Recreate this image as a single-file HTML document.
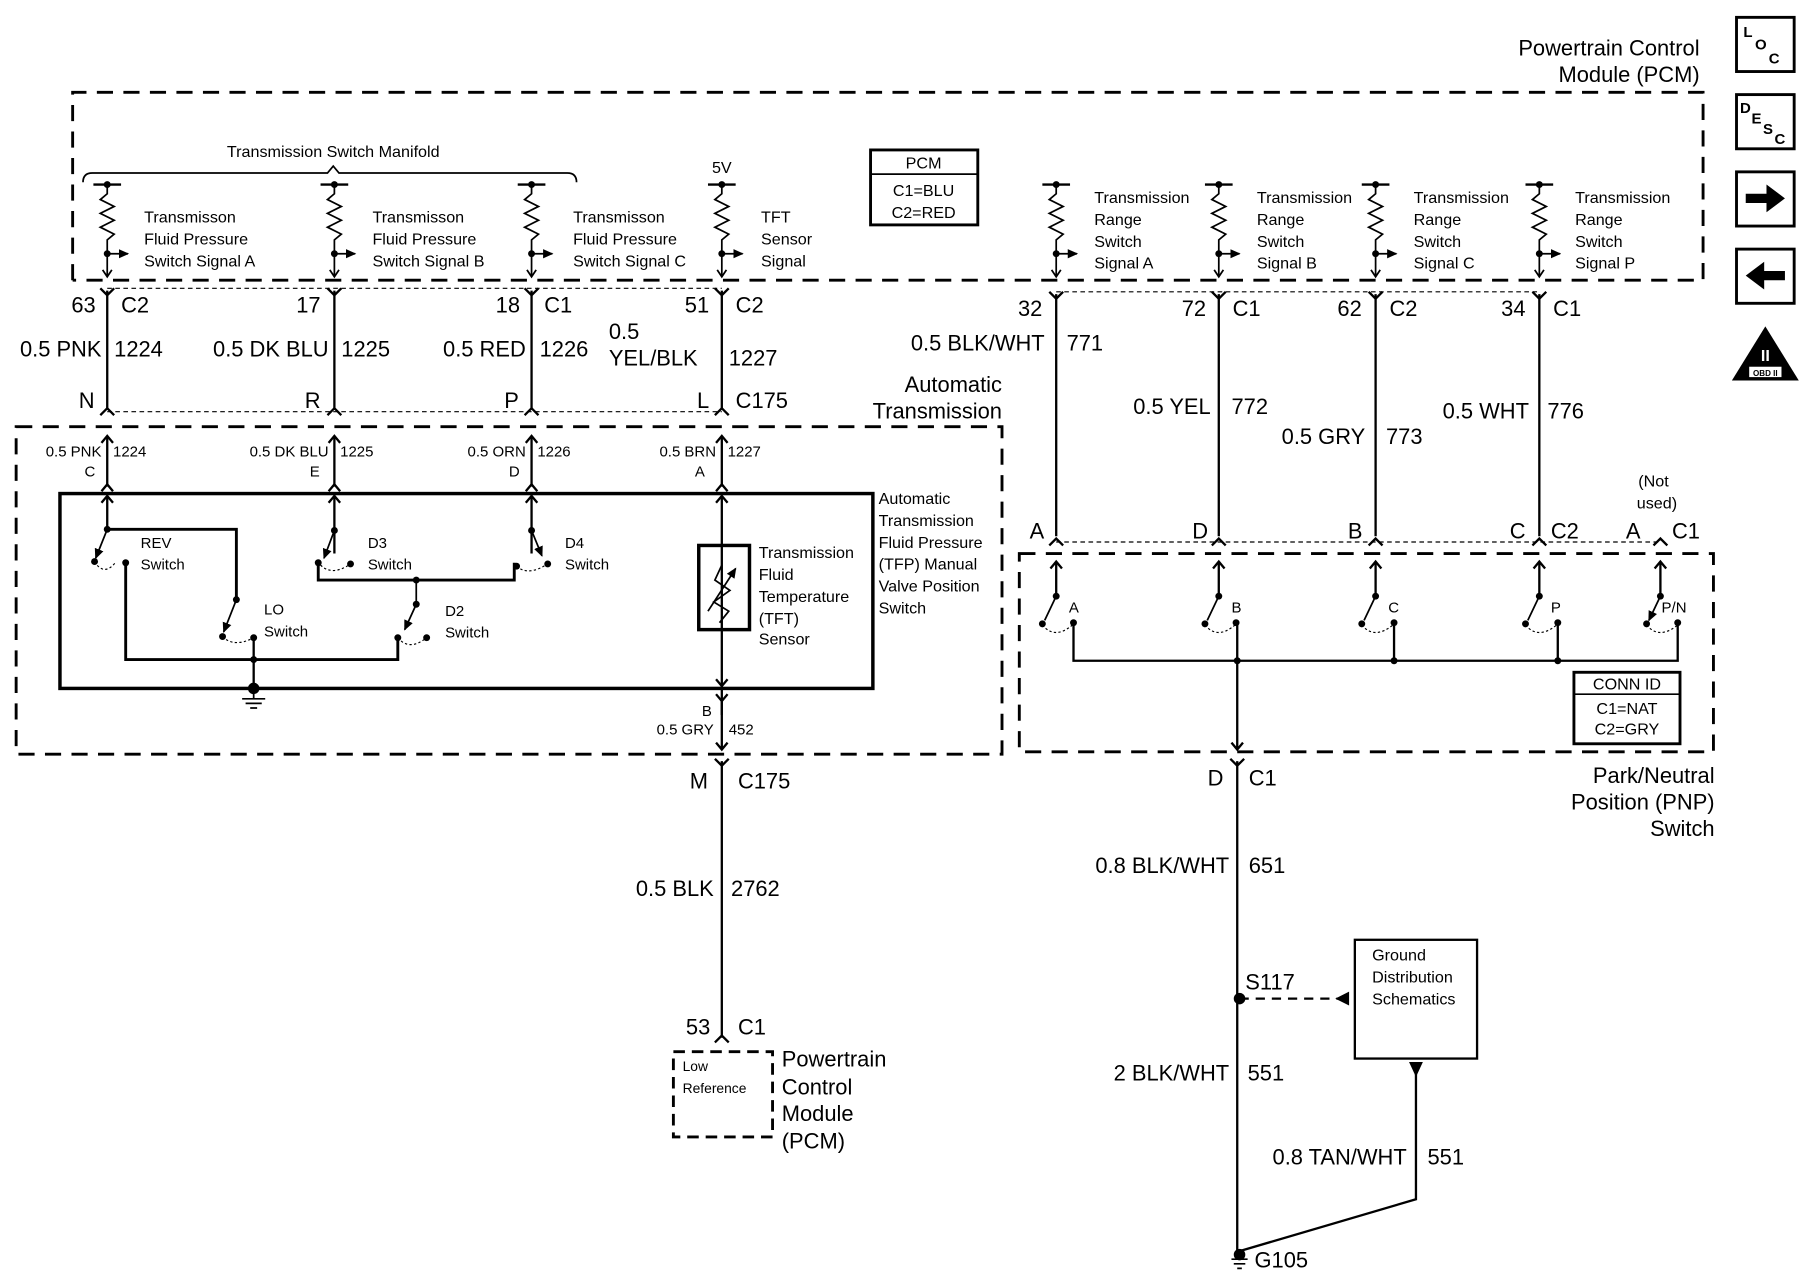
<!DOCTYPE html>
<html><head><meta charset="utf-8"><style>
html,body{margin:0;padding:0;background:#fff;}
svg{display:block;}
text{font-family:"Liberation Sans",Arial,sans-serif;fill:#000;}
</style></head><body>
<svg width="1808" height="1280" viewBox="0 0 1568 1110" xmlns="http://www.w3.org/2000/svg">
<defs>
<marker id="ar" markerUnits="userSpaceOnUse" markerWidth="9" markerHeight="8" refX="8" refY="4" orient="auto"><path d="M0,0 L9,4 L0,8 z" fill="#000"/></marker>
<g id="r"><path d="M0,160 V168 L-6,173 L6,179 L-6,185 L6,191 L-6,197 L6,203 L0,208 V240" /><path d="M-12,160 H12" stroke-width="2"/><path d="M0,220 H18" marker-end="url(#ar)"/></g>
</defs>
<g fill="none" stroke="#000">
<path d="M63,243 V80 H1477 V243 H63" stroke-width="2.5" stroke-dasharray="14,9"/>
<rect x="14" y="370" width="855" height="284" stroke-width="2.5" stroke-dasharray="14,9"/>
<rect x="884" y="480" width="602" height="172" stroke-width="2.5" stroke-dasharray="14,9"/>
<path d="M93,250 H626 M93,357 H626 M916,253 H1335 M916,470 H1440" stroke-width="1" stroke-dasharray="4,3"/>
<path d="M72,158 Q72,150 80,150 H284 L289,144 L294,150 H492 Q500,150 500,158" stroke-width="1.5"/>
<rect x="755" y="130" width="93" height="65" stroke-width="2.5"/>
<line x1="755" y1="151" x2="848" y2="151" stroke-width="1.5"/>
<rect x="1506" y="15" width="50" height="47" stroke-width="2.5"/>
<rect x="1506" y="82" width="50" height="47" stroke-width="2.5"/>
<rect x="1506" y="149" width="50" height="47" stroke-width="2.5"/>
<rect x="1506" y="216" width="50" height="47" stroke-width="2.5"/>
<rect x="52" y="428" width="705" height="169" stroke-width="3"/>
<rect x="606" y="473" width="44" height="73" stroke-width="3"/>
<rect x="1365" y="583" width="92" height="62" stroke-width="2.5"/>
<line x1="1365" y1="602" x2="1457" y2="602" stroke-width="1.5"/>
<rect x="584" y="912" width="86" height="74" stroke-width="2.5" stroke-dasharray="10,6"/>
<rect x="1175" y="815" width="106" height="103" stroke-width="2"/>
</g>
<path d="M1514,168 H1532 V160 L1548,172 L1532,184 V176 H1514 z"/>
<path d="M1548,235 H1530 V227 L1514,239 L1530,251 V243 H1548 z"/>
<path d="M1531,283 L1560,330 H1502 z"/>
<rect x="1517" y="318" width="28" height="9" fill="#fff"/>
<text x="1531" y="326" font-size="7" text-anchor="middle" font-weight="bold">OBD II</text>
<text x="1531" y="313" font-size="14" text-anchor="middle" style="fill:#fff" font-weight="bold">II</text>
<text x="1512" y="32" font-size="13" font-weight="bold">L</text><text x="1522" y="43" font-size="13" font-weight="bold">O</text><text x="1534" y="55" font-size="13" font-weight="bold">C</text>
<text x="1509" y="98" font-size="13" font-weight="bold">D</text><text x="1519" y="107" font-size="13" font-weight="bold">E</text><text x="1529" y="116" font-size="13" font-weight="bold">S</text><text x="1539" y="125" font-size="13" font-weight="bold">C</text>

<g stroke="#000" fill="none" stroke-width="1.5">
<use href="#r" x="93"/><use href="#r" x="290"/><use href="#r" x="461"/><use href="#r" x="626"/>
<use href="#r" x="916"/><use href="#r" x="1057"/><use href="#r" x="1193"/><use href="#r" x="1335"/>
</g>
<g fill="#000">
<circle cx="93" cy="160" r="3"/><circle cx="290" cy="160" r="3"/><circle cx="461" cy="160" r="3"/><circle cx="626" cy="160" r="3"/>
<circle cx="916" cy="160" r="3"/><circle cx="1057" cy="160" r="3"/><circle cx="1193" cy="160" r="3"/><circle cx="1335" cy="160" r="3"/>
<circle cx="93" cy="220" r="3"/><circle cx="290" cy="220" r="3"/><circle cx="461" cy="220" r="3"/><circle cx="626" cy="220" r="3"/>
<circle cx="916" cy="220" r="3"/><circle cx="1057" cy="220" r="3"/><circle cx="1193" cy="220" r="3"/><circle cx="1335" cy="220" r="3"/>
</g>
<g stroke="#000" fill="none" stroke-width="1.5">
<path d="M89,234 L93,240 L97,234 M286,234 L290,240 L294,234 M457,234 L461,240 L465,234 M622,234 L626,240 L630,234 M912,234 L916,240 L920,234 M1053,234 L1057,240 L1061,234 M1189,234 L1193,240 L1197,234 M1331,234 L1335,240 L1339,234"/>
</g>

<g stroke="#000" fill="none" stroke-width="2">
<path d="M93,252 V355 M290,252 V355 M461,252 V355 M626,252 V355"/>
<path d="M87,250 L93,256 L99,250 M284,250 L290,256 L296,250 M455,250 L461,256 L467,250 M620,250 L626,256 L632,250"/>
<path d="M87,360 L93,354 L99,360 M284,360 L290,354 L296,360 M455,360 L461,354 L467,360 M620,360 L626,354 L632,360"/>
<path d="M916,255 V465 M1057,255 V465 M1193,255 V465 M1335,255 V465"/>
<path d="M910,253 L916,259 L922,253 M1051,253 L1057,259 L1063,253 M1187,253 L1193,259 L1199,253 M1329,253 L1335,259 L1341,253"/>
<path d="M910,473 L916,467 L922,473 M1051,473 L1057,467 L1063,473 M1187,473 L1193,467 L1199,473 M1329,473 L1335,467 L1341,473 M1434,473 L1440,467 L1446,473"/>
<path d="M93,378 V422 M290,378 V422 M461,378 V422 M626,378 V422"/>
<path d="M88,384 L93,378 L98,384 M285,384 L290,378 L295,384 M456,384 L461,378 L466,384 M621,384 L626,378 L631,384"/>
<path d="M88,426 L93,420 L98,426 M285,426 L290,420 L295,426 M456,426 L461,420 L466,426 M621,426 L626,420 L631,426"/>
<path d="M93,430 V459 M290,430 V480 M461,430 V480 M626,430 V620"/>
<path d="M88,436 L93,430 L98,436 M285,436 L290,430 L295,436 M456,436 L461,430 L466,436 M621,436 L626,430 L631,436"/>
<path d="M621,589 L626,595 L631,589 M621,602 L626,608 L631,602"/>
<path d="M626,608 V650 M621,644 L626,650 L631,644"/>
<path d="M93,459 H205 V520" stroke-width="2.5"/>
<path d="M93,459 L83,484" marker-end="url(#ar)" stroke-width="1.5"/>
<path d="M82,487 Q90,500 100,488" stroke-dasharray="2,2" stroke-width="1"/>
<path d="M109,488 V572 H345 V553" stroke-width="2.5"/>
<path d="M205,520 L194,548" marker-end="url(#ar)" stroke-width="1.5"/>
<path d="M193,552 Q203,562 220,553" stroke-dasharray="2,2" stroke-width="1"/>
<path d="M220,553 V597"/>
<path d="M290,452 V460 L281,484" marker-end="url(#ar)" stroke-width="1.5"/>
<path d="M276,488 V503 H446 V488" stroke-width="2.5"/>
<path d="M278,490 Q288,500 304,489" stroke-dasharray="2,2" stroke-width="1"/>
<path d="M461,460 L470,482" marker-end="url(#ar)" stroke-width="1.5"/>
<path d="M448,491 Q458,500 475,489" stroke-dasharray="2,2" stroke-width="1"/>
<path d="M361,503 V524 L351,546" marker-end="url(#ar)" stroke-width="1.5"/>
<path d="M345,553 Q355,565 370,553" stroke-dasharray="2,2" stroke-width="1"/>
<path d="M626,490 L620,503 L633,512 L619,522 L632,530 L624,540" stroke-width="1.5"/>
<path d="M614,530 L638,493" marker-end="url(#ar)" stroke-width="1.5"/>
<path d="M220,597 V606 M210,606 H230 M213,610 H227 M217,614 H223" stroke-width="1.5"/>
<path d="M626,660 V900 M620,658 L626,664 L632,658 M620,904 L626,898 L632,904"/>
<path d="M916,487 V517 M1057,487 V517 M1193,487 V517 M1335,487 V517 M1440,487 V517"/>
<path d="M911,493 L916,487 L921,493 M1052,493 L1057,487 L1062,493 M1188,493 L1193,487 L1198,493 M1330,493 L1335,487 L1340,493 M1435,493 L1440,487 L1445,493"/>
<g stroke-width="1.5">
<path d="M916,517 L906,538 M1057,517 L1047,538 M1193,517 L1183,538 M1335,517 L1325,538 M1440,517 L1430,538" marker-end="url(#ar)"/>
</g>
<path d="M904,542 Q915,555 930,542 M1045,542 Q1056,555 1071,542 M1181,542 Q1192,555 1208,542 M1323,542 Q1334,555 1350,542 M1428,542 Q1439,555 1455,542" stroke-dasharray="2,2" stroke-width="1"/>
<path d="M931,540 V573 H1455 V540 M1073,540 V573 M1209,540 V573 M1351,540 V573" stroke-width="2"/>
<path d="M1073,573 V650 M1068,644 L1073,650 L1078,644"/>
<path d="M1073,660 V1085 M1067,658 L1073,664 L1079,658"/>
<path d="M1075,866 H1160" stroke-dasharray="8,6"/>
<path d="M1228,930 V1040 L1075,1085"/>
<path d="M1068,1092 H1082 M1070,1096 H1080 M1073,1100 H1077" stroke-width="1.5"/>
</g>
<g fill="#000">
<path d="M1170,860 L1158,866 L1170,872 z"/>
<path d="M1222,921 L1228,934 L1234,921 z"/>
<circle cx="1075" cy="866" r="5"/><circle cx="1075" cy="1088" r="5"/>
<circle cx="220" cy="597" r="5"/>
<circle cx="93" cy="459" r="3"/><circle cx="82" cy="487" r="3"/><circle cx="109" cy="488" r="3"/>
<circle cx="205" cy="520" r="3"/><circle cx="193" cy="552" r="3"/><circle cx="220" cy="553" r="3"/><circle cx="220" cy="572" r="3"/>
<circle cx="290" cy="460" r="3"/><circle cx="276" cy="488" r="3"/><circle cx="304" cy="489" r="3"/>
<circle cx="461" cy="460" r="3"/><circle cx="448" cy="491" r="3"/><circle cx="475" cy="489" r="3"/>
<circle cx="361" cy="524" r="3"/><circle cx="361" cy="503" r="3"/><circle cx="345" cy="553" r="3"/><circle cx="370" cy="553" r="3"/>
<circle cx="916" cy="517" r="3"/><circle cx="1057" cy="517" r="3"/><circle cx="1193" cy="517" r="3"/><circle cx="1335" cy="517" r="3"/><circle cx="1440" cy="517" r="3"/>
<circle cx="904" cy="541" r="3"/><circle cx="931" cy="540" r="3"/><circle cx="1045" cy="541" r="3"/><circle cx="1072" cy="540" r="3"/>
<circle cx="1181" cy="541" r="3"/><circle cx="1209" cy="540" r="3"/><circle cx="1323" cy="541" r="3"/><circle cx="1351" cy="540" r="3"/>
<circle cx="1428" cy="541" r="3"/><circle cx="1455" cy="540" r="3"/>
<circle cx="1073" cy="573" r="3"/><circle cx="1209" cy="573" r="3"/><circle cx="1351" cy="573" r="3"/>
</g>

<g font-size="19">
<text x="1474" y="48" text-anchor="end">Powertrain Control</text>
<text x="1474" y="71" text-anchor="end">Module (PCM)</text>
<text x="83" y="271" text-anchor="end">63</text><text x="105" y="271">C2</text>
<text x="278" y="271" text-anchor="end">17</text>
<text x="451" y="271" text-anchor="end">18</text><text x="472" y="271">C1</text>
<text x="615" y="271" text-anchor="end">51</text><text x="638" y="271">C2</text>
<text x="88" y="309" text-anchor="end">0.5 PNK</text><text x="99" y="309">1224</text>
<text x="285" y="309" text-anchor="end">0.5 DK BLU</text><text x="296" y="309">1225</text>
<text x="456" y="309" text-anchor="end">0.5 RED</text><text x="468" y="309">1226</text>
<text x="528" y="294">0.5</text><text x="528" y="317">YEL/BLK</text><text x="632" y="317">1227</text>
<text x="82" y="354" text-anchor="end">N</text><text x="278" y="354" text-anchor="end">R</text>
<text x="450" y="354" text-anchor="end">P</text><text x="615" y="354" text-anchor="end">L</text><text x="638" y="354">C175</text>
<text x="869" y="340" text-anchor="end">Automatic</text><text x="869" y="363" text-anchor="end">Transmission</text>
<text x="904" y="274" text-anchor="end">32</text>
<text x="1046" y="274" text-anchor="end">72</text><text x="1069" y="274">C1</text>
<text x="1181" y="274" text-anchor="end">62</text><text x="1205" y="274">C2</text>
<text x="1323" y="274" text-anchor="end">34</text><text x="1347" y="274">C1</text>
<text x="906" y="304" text-anchor="end">0.5 BLK/WHT</text><text x="925" y="304">771</text>
<text x="1050" y="359" text-anchor="end">0.5 YEL</text><text x="1068" y="359">772</text>
<text x="1184" y="385" text-anchor="end">0.5 GRY</text><text x="1202" y="385">773</text>
<text x="1326" y="363" text-anchor="end">0.5 WHT</text><text x="1342" y="363">776</text>
<text x="893" y="467">A</text><text x="1034" y="467">D</text><text x="1169" y="467">B</text>
<text x="1323" y="467" text-anchor="end">C</text><text x="1345" y="467">C2</text>
<text x="1410" y="467">A</text><text x="1450" y="467">C1</text>
<text x="1487" y="679" text-anchor="end">Park/Neutral</text>
<text x="1487" y="702" text-anchor="end">Position (PNP)</text>
<text x="1487" y="725" text-anchor="end">Switch</text>
<text x="1061" y="681" text-anchor="end">D</text><text x="1083" y="681">C1</text>
<text x="1066" y="757" text-anchor="end">0.8 BLK/WHT</text><text x="1083" y="757">651</text>
<text x="1080" y="858">S117</text>
<text x="1066" y="937" text-anchor="end">2 BLK/WHT</text><text x="1082" y="937">551</text>
<text x="1220" y="1010" text-anchor="end">0.8 TAN/WHT</text><text x="1238" y="1010">551</text>
<text x="1088" y="1099">G105</text>
<text x="614" y="684" text-anchor="end">M</text><text x="640" y="684">C175</text>
<text x="619" y="777" text-anchor="end">0.5 BLK</text><text x="634" y="777">2762</text>
<text x="616" y="897" text-anchor="end">53</text><text x="640" y="897">C1</text>
<text x="678" y="925">Powertrain</text><text x="678" y="949">Control</text><text x="678" y="972">Module</text><text x="678" y="996">(PCM)</text>
</g>
<g font-size="14">
<text x="289" y="136" text-anchor="middle">Transmission Switch Manifold</text>
<text x="626" y="150" text-anchor="middle">5V</text>
<text x="125" y="193">Transmisson</text><text x="125" y="212">Fluid Pressure</text><text x="125" y="231">Switch Signal A</text>
<text x="323" y="193">Transmisson</text><text x="323" y="212">Fluid Pressure</text><text x="323" y="231">Switch Signal B</text>
<text x="497" y="193">Transmisson</text><text x="497" y="212">Fluid Pressure</text><text x="497" y="231">Switch Signal C</text>
<text x="660" y="193">TFT</text><text x="660" y="212">Sensor</text><text x="660" y="231">Signal</text>
<text x="801" y="146" text-anchor="middle">PCM</text>
<text x="801" y="170" text-anchor="middle">C1=BLU</text><text x="801" y="189" text-anchor="middle">C2=RED</text>
<text x="949" y="176">Transmission</text><text x="949" y="195">Range</text><text x="949" y="214">Switch</text><text x="949" y="233">Signal A</text>
<text x="1090" y="176">Transmission</text><text x="1090" y="195">Range</text><text x="1090" y="214">Switch</text><text x="1090" y="233">Signal B</text>
<text x="1226" y="176">Transmission</text><text x="1226" y="195">Range</text><text x="1226" y="214">Switch</text><text x="1226" y="233">Signal C</text>
<text x="1366" y="176">Transmission</text><text x="1366" y="195">Range</text><text x="1366" y="214">Switch</text><text x="1366" y="233">Signal P</text>
<text x="1434" y="422" text-anchor="middle">(Not</text><text x="1437" y="441" text-anchor="middle">used)</text>
<text x="762" y="437">Automatic</text><text x="762" y="456">Transmission</text><text x="762" y="475">Fluid Pressure</text>
<text x="762" y="494">(TFP) Manual</text><text x="762" y="513">Valve Position</text><text x="762" y="532">Switch</text>
<text x="658" y="484">Transmission</text><text x="658" y="503">Fluid</text><text x="658" y="522">Temperature</text>
<text x="658" y="541">(TFT)</text><text x="658" y="559">Sensor</text>
<text x="1411" y="598" text-anchor="middle">CONN ID</text>
<text x="1411" y="619" text-anchor="middle">C1=NAT</text><text x="1411" y="637" text-anchor="middle">C2=GRY</text>
<text x="1190" y="833">Ground</text><text x="1190" y="852">Distribution</text><text x="1190" y="871">Schematics</text>
</g>
<g font-size="13">
<text x="88" y="396" text-anchor="end">0.5 PNK</text><text x="98" y="396">1224</text><text x="78" y="413" text-anchor="middle">C</text>
<text x="285" y="396" text-anchor="end">0.5 DK BLU</text><text x="295" y="396">1225</text><text x="273" y="413" text-anchor="middle">E</text>
<text x="456" y="396" text-anchor="end">0.5 ORN</text><text x="466" y="396">1226</text><text x="446" y="413" text-anchor="middle">D</text>
<text x="621" y="396" text-anchor="end">0.5 BRN</text><text x="631" y="396">1227</text><text x="607" y="413" text-anchor="middle">A</text>
<text x="122" y="475">REV</text><text x="122" y="494">Switch</text>
<text x="319" y="475">D3</text><text x="319" y="494">Switch</text>
<text x="490" y="475">D4</text><text x="490" y="494">Switch</text>
<text x="229" y="533">LO</text><text x="229" y="552">Switch</text>
<text x="386" y="534">D2</text><text x="386" y="553">Switch</text>
<text x="613" y="621" text-anchor="middle">B</text>
<text x="619" y="637" text-anchor="end">0.5 GRY</text><text x="632" y="637">452</text>
<text x="927" y="531">A</text><text x="1068" y="531">B</text><text x="1204" y="531">C</text><text x="1345" y="531">P</text><text x="1441" y="531">P/N</text>
<text x="592" y="929" font-size="12">Low</text><text x="592" y="948" font-size="12">Reference</text>
</g>
</svg>
</body></html>
